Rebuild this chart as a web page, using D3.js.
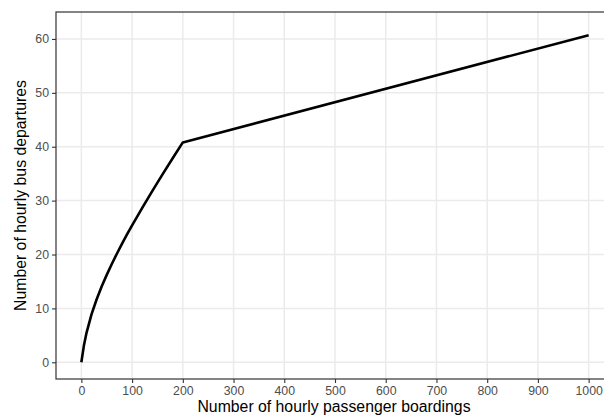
<!DOCTYPE html>
<html><head><meta charset="utf-8">
<script src="https://cdn.jsdelivr.net/npm/d3@7"></script>
<style>body{margin:0;background:#fff}svg{display:block}</style>
</head><body>
<svg id="c" width="604" height="418"></svg>
<script>
// Data
const boardings = [0, 5, 10, 20, 30, 40, 50, 60, 70, 80, 90, 100, 120, 140, 160, 180, 200, 1000];
const departures = [0, 3.1, 5.4, 8.9, 11.65, 14.06, 16.22, 18.23, 20.15, 21.97, 23.72, 25.41, 28.67, 31.81, 34.87, 37.86, 40.8, 60.7];
const xTicks = [0, 100, 200, 300, 400, 500, 600, 700, 800, 900, 1000];
const yTicks = [0, 10, 20, 30, 40, 50, 60];
const xTitle = "Number of hourly passenger boardings";
const yTitle = "Number of hourly bus departures";

const svg = d3.select("#c");
const L = 56, R = 614, T = 12, B = 379;
const x = d3.scaleLinear().domain([-50, 1050]).range([L, R]);
const y = d3.scaleLinear().domain([-3.1, 65.0]).range([B, T]);

// grid
svg.append("g").selectAll("line").data(xTicks).join("line")
  .attr("x1", d => x(d)).attr("x2", d => x(d)).attr("y1", T).attr("y2", B)
  .attr("stroke", "#EBEBEB").attr("stroke-width", 1.5);
svg.append("g").selectAll("line").data(yTicks).join("line")
  .attr("y1", d => y(d)).attr("y2", d => y(d)).attr("x1", L).attr("x2", R)
  .attr("stroke", "#EBEBEB").attr("stroke-width", 1.5);

// line
const pts = boardings.map((b, i) => [b, departures[i]]);
svg.append("path").datum(pts)
  .attr("d", d3.line().x(d => x(d[0])).y(d => y(d[1])))
  .attr("fill", "none").attr("stroke", "#000").attr("stroke-width", 2.6)
  .attr("stroke-linejoin", "round").attr("stroke-linecap", "butt");

// border
svg.append("rect").attr("x", L).attr("y", T).attr("width", R - L).attr("height", B - T)
  .attr("fill", "none").attr("stroke", "#333333").attr("stroke-width", 1.2);

// axes
const xa = svg.append("g").attr("transform", `translate(0,${B})`)
  .call(d3.axisBottom(x).tickValues(xTicks).tickSize(4).tickPadding(3).tickFormat(d3.format("d")));
const ya = svg.append("g").attr("transform", `translate(${L},0)`)
  .call(d3.axisLeft(y).tickValues(yTicks).tickSize(4).tickPadding(3).tickFormat(d3.format("d")));
[xa, ya].forEach(a => {
  a.select(".domain").remove();
  a.selectAll(".tick line").attr("stroke", "#333333").attr("stroke-width", 1.1);
  a.selectAll(".tick text").attr("fill", "#4D4D4D")
    .style("font-family", "'Liberation Sans', Arial, sans-serif").style("font-size", "12.3px");
});

svg.append("text").attr("x", (L + R) / 2 - 1).attr("y", 412)
  .attr("text-anchor", "middle").attr("fill", "#000")
  .style("font-family", "'Liberation Sans', Arial, sans-serif").style("font-size", "15.8px")
  .text(xTitle);
svg.append("text").attr("transform", `translate(26,${(T + B) / 2}) rotate(-90)`)
  .attr("text-anchor", "middle").attr("fill", "#000")
  .style("font-family", "'Liberation Sans', Arial, sans-serif").style("font-size", "15.8px")
  .text(yTitle);
</script>
</body></html>
